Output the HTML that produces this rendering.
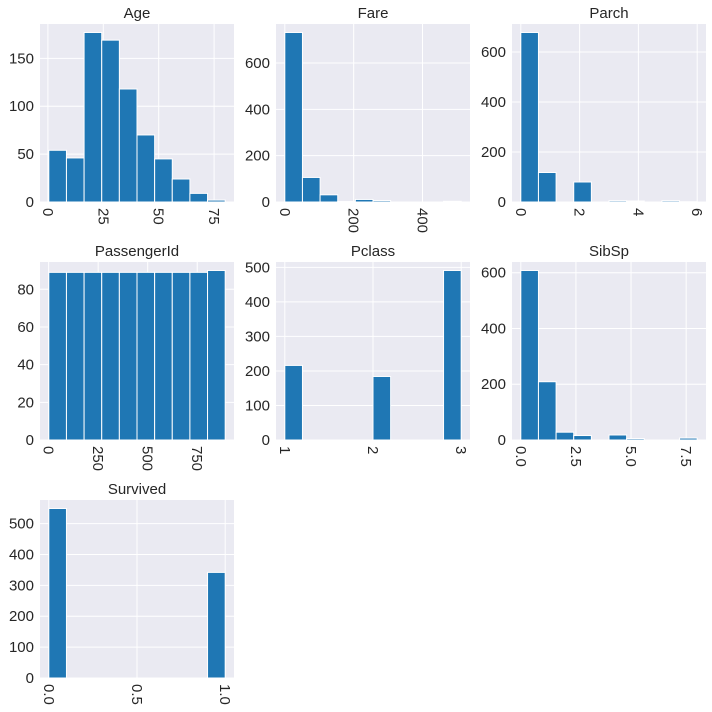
<!DOCTYPE html>
<html><head><meta charset="utf-8">
<style>
body{margin:0;background:#fff;}
svg{display:block;font-family:"Liberation Sans",Arial,sans-serif;}
</style></head>
<body>
<svg id="fig" width="712" height="712"></svg>
<script>
const titles=["Age","Fare","Parch","PassengerId","Pclass","SibSp","Survived"];
const mins=[0.42,0,0,1,1,0,0];
const maxs=[80,512.33,6,891,3,8,1];
const ageCounts=[54,46,177,169,118,70,45,24,9,2];
const fareCounts=[732,106,31,2,11,6,0,0,0,3];
const parchCounts=[678,118,0,80,0,5,4,0,5,1];
const pidCounts=[89,89,89,89,89,89,89,89,89,90];
const pclassCounts=[216,0,0,0,0,184,0,0,0,491];
const sibspCounts=[608,209,28,16,0,18,5,0,0,7];
const survivedCounts=[549,0,0,0,0,0,0,0,0,342];
const allCounts=[ageCounts,fareCounts,parchCounts,pidCounts,pclassCounts,sibspCounts,survivedCounts];
const xTicks=[[0,25,50,75],[0,200,400],[0,2,4,6],[0,250,500,750],[1,2,3],[0,2.5,5,7.5],[0,0.5,1]];
const xTickLabels=[["0","25","50","75"],["0","200","400"],["0","2","4","6"],["0","250","500","750"],["1","2","3"],["0.0","2.5","5.0","7.5"],["0.0","0.5","1.0"]];
const yTicks=[[0,50,100,150],[0,200,400,600],[0,200,400,600],[0,20,40,60,80],[0,100,200,300,400,500],[0,200,400,600],[0,100,200,300,400,500]];

const NS="http://www.w3.org/2000/svg";
const svg=document.getElementById('fig');
function mk(tag,attrs,parent){const e=document.createElementNS(NS,tag);for(const k in attrs)e.setAttribute(k,attrs[k]);(parent||svg).appendChild(e);return e;}
const colX=[40,276,512],rowY=[24,262,500],W=194,H=178;
titles.forEach((t,i)=>{
  const x0=colX[i%3],y0=rowY[Math.floor(i/3)];
  const g=mk('g',{});
  
  
  const counts=allCounts[i];
  const lo=mins[i],hi=maxs[i],pad=(hi-lo)*0.05;
  const xs=v=>x0+(v-(lo-pad))/((hi-lo)+2*pad)*W;
  const ymax=Math.max(...counts)*1.05;
  const ys=v=>y0+H-v/ymax*H;
  const bg=mk('rect',{x:x0,y:y0,width:W,height:H,fill:'#eaeaf2'},g);
  
  
  yTicks[i].forEach(v=>{
    const yy=ys(v);
    const gl=mk('line',{x1:x0,x2:x0+W,y1:yy,y2:yy,stroke:'#fff','stroke-width':1},g);
    
    
    const tl=mk('text',{x:x0-6,y:yy+5,'text-anchor':'end','font-size':15,fill:'#262626'},g);
    tl.textContent=String(v);
    
    
  });
  xTicks[i].forEach((v,j)=>{
    const xx=xs(v);
    const gl=mk('line',{x1:xx,x2:xx,y1:y0,y2:y0+H,stroke:'#fff','stroke-width':1},g);
    
    
    const tl=mk('text',{transform:`translate(${xx-5},${y0+H+6}) rotate(90)`,'text-anchor':'start','font-size':15,fill:'#262626'},g);
    tl.textContent=xTickLabels[i][j];
    
    
  });
  const bw=(hi-lo)/counts.length;
  counts.forEach((c,k)=>{
    if(c<=0)return;
    const xa=xs(lo+k*bw),xb=xs(lo+(k+1)*bw);
    const r=mk('rect',{x:xa,y:ys(c),width:xb-xa,height:ys(0)-ys(c),fill:'#1f77b4',stroke:'#fff','stroke-width':1},g);
    
    
  });
  const tt=mk('text',{x:x0+W/2,y:y0-6,'text-anchor':'middle','font-size':15,fill:'#262626'},g);
  tt.textContent=t;
  
  
});
</script>
</body></html>
